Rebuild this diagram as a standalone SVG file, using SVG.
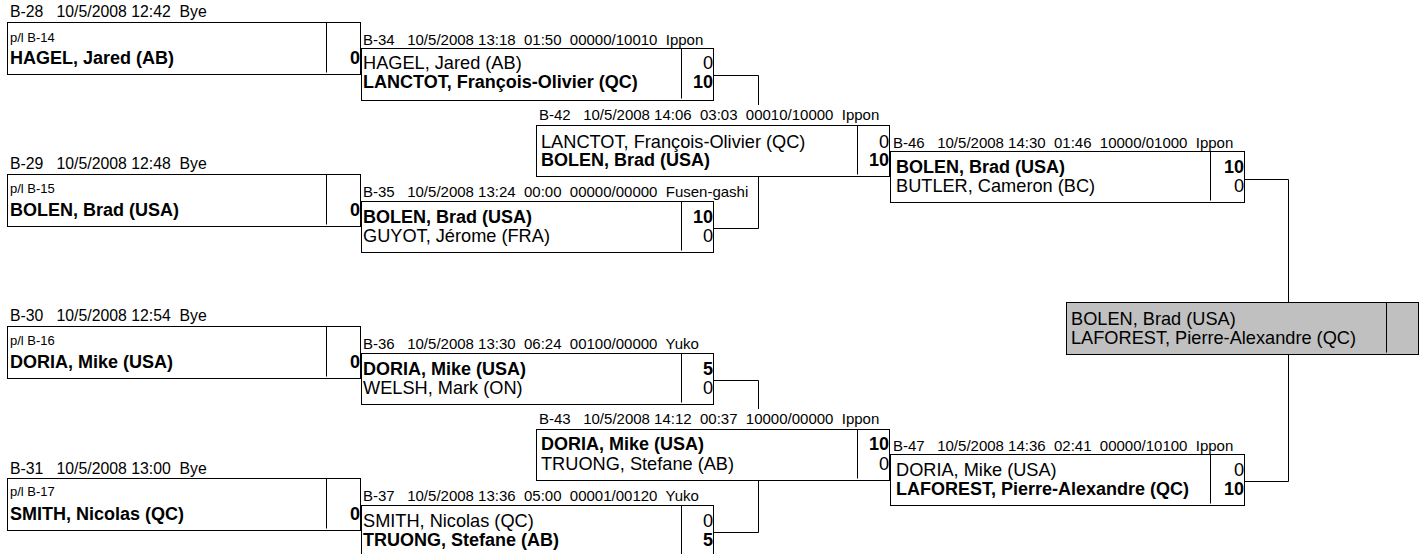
<svg xmlns="http://www.w3.org/2000/svg" width="1419" height="554" viewBox="0 0 1419 554">
<style>
text{font-family:"Liberation Sans",Arial,sans-serif;fill:#000}
.lbl{font-size:15px;white-space:pre}
.lbl1{font-size:15.8px;white-space:pre}
.nm{font-size:18.2px}
.b{font-weight:bold;font-size:18px}
.pl{font-size:13px}
.sc{text-anchor:end}
.box{fill:#fff;stroke:#000;stroke-width:1}
.fin{fill:#c0c0c0;stroke:#000;stroke-width:1}
.bg{fill:#fff;stroke:none}
.dv{stroke:#000;stroke-width:1}
.con{fill:none;stroke:#000;stroke-width:1}
</style>
<rect width="1419" height="554" fill="#fff"/>

<!-- Round 1 -->
<g id="B-28">
<text class="lbl1" x="10" y="17" xml:space="preserve">B-28   10/5/2008 12:42  Bye</text>
<rect class="box" x="7.5" y="22.5" width="353" height="52"/>
<line class="dv" x1="326.5" y1="22.5" x2="326.5" y2="72.5"/>
<text class="pl" x="10" y="42">p/l B-14</text>
<text class="nm b" x="10" y="63.5">HAGEL, Jared (AB)</text>
<text class="nm b sc" x="360" y="63.5">0</text>
</g>
<g id="B-29">
<text class="lbl1" x="10" y="169" xml:space="preserve">B-29   10/5/2008 12:48  Bye</text>
<rect class="box" x="7.5" y="174.5" width="353" height="52"/>
<line class="dv" x1="326.5" y1="174.5" x2="326.5" y2="224.5"/>
<text class="pl" x="10" y="193">p/l B-15</text>
<text class="nm b" x="10" y="215.5">BOLEN, Brad (USA)</text>
<text class="nm b sc" x="360" y="215.5">0</text>
</g>
<g id="B-30">
<text class="lbl1" x="10" y="321" xml:space="preserve">B-30   10/5/2008 12:54  Bye</text>
<rect class="box" x="7.5" y="326.5" width="353" height="52"/>
<line class="dv" x1="326.5" y1="326.5" x2="326.5" y2="376.5"/>
<text class="pl" x="10" y="345">p/l B-16</text>
<text class="nm b" x="10" y="367.5">DORIA, Mike (USA)</text>
<text class="nm b sc" x="360" y="367.5">0</text>
</g>
<g id="B-31">
<text class="lbl1" x="10" y="474" xml:space="preserve">B-31   10/5/2008 13:00  Bye</text>
<rect class="box" x="7.5" y="478.5" width="353" height="52"/>
<line class="dv" x1="326.5" y1="478.5" x2="326.5" y2="528.5"/>
<text class="pl" x="10" y="496">p/l B-17</text>
<text class="nm b" x="10" y="519.5">SMITH, Nicolas (QC)</text>
<text class="nm b sc" x="360" y="519.5">0</text>
</g>

<!-- Round 2 -->
<g id="B-34">
<text class="lbl" x="363" y="45" xml:space="preserve">B-34   10/5/2008 13:18  01:50  00000/10010  Ippon</text>
<rect class="box" x="361.5" y="48.5" width="352" height="52"/>
<line class="dv" x1="681.5" y1="48.5" x2="681.5" y2="98.5"/>
<text class="nm" x="363" y="68.5">HAGEL, Jared (AB)</text>
<text class="nm sc" x="713" y="68.5">0</text>
<text class="nm b" x="363" y="88">LANCTOT, François-Olivier (QC)</text>
<text class="nm b sc" x="713" y="88">10</text>
</g>
<g id="B-35">
<text class="lbl" x="363" y="197" xml:space="preserve">B-35   10/5/2008 13:24  00:00  00000/00000  Fusen-gashi</text>
<rect class="box" x="361.5" y="201.5" width="352" height="51"/>
<line class="dv" x1="681.5" y1="201.5" x2="681.5" y2="250.5"/>
<text class="nm b" x="363" y="222.5">BOLEN, Brad (USA)</text>
<text class="nm b sc" x="713" y="222.5">10</text>
<text class="nm" x="363" y="241.5">GUYOT, Jérome (FRA)</text>
<text class="nm sc" x="713" y="241.5">0</text>
</g>
<g id="B-36">
<text class="lbl" x="363" y="349" xml:space="preserve">B-36   10/5/2008 13:30  06:24  00100/00000  Yuko</text>
<rect class="box" x="361.5" y="353.5" width="352" height="51"/>
<line class="dv" x1="681.5" y1="353.5" x2="681.5" y2="402.5"/>
<text class="nm b" x="363" y="374.5">DORIA, Mike (USA)</text>
<text class="nm b sc" x="713" y="374.5">5</text>
<text class="nm" x="363" y="393.5">WELSH, Mark (ON)</text>
<text class="nm sc" x="713" y="393.5">0</text>
</g>
<g id="B-37">
<text class="lbl" x="363" y="501" xml:space="preserve">B-37   10/5/2008 13:36  05:00  00001/00120  Yuko</text>
<rect class="box" x="361.5" y="505.5" width="352" height="51"/>
<line class="dv" x1="681.5" y1="505.5" x2="681.5" y2="554.5"/>
<text class="nm" x="363" y="526.5">SMITH, Nicolas (QC)</text>
<text class="nm sc" x="713" y="526.5">0</text>
<text class="nm b" x="363" y="545.5">TRUONG, Stefane (AB)</text>
<text class="nm b sc" x="713" y="545.5">5</text>
</g>

<!-- Connectors -->
<g id="connectors">
<path class="con" d="M713.5,75.5 H758.5 V228.5 H713.5"/>
<path class="con" d="M713.5,380.5 H758.5 V532.5 H713.5"/>
<path class="con" d="M1244.5,179.5 H1288.5 V481.5 H1244.5"/>
</g>

<!-- Round 3 -->
<g id="B-42">
<rect class="bg" x="536" y="105" width="354" height="72"/>
<text class="lbl" x="539" y="120" xml:space="preserve">B-42   10/5/2008 14:06  03:03  00010/10000  Ippon</text>
<rect class="box" x="536.5" y="125.5" width="353" height="51"/>
<line class="dv" x1="857.5" y1="125.5" x2="857.5" y2="174.5"/>
<text class="nm" x="541" y="147.5">LANCTOT, François-Olivier (QC)</text>
<text class="nm sc" x="889" y="147.5">0</text>
<text class="nm b" x="541" y="166">BOLEN, Brad (USA)</text>
<text class="nm b sc" x="889" y="166">10</text>
</g>
<g id="B-43">
<rect class="bg" x="536" y="409" width="354" height="72"/>
<text class="lbl" x="539" y="424" xml:space="preserve">B-43   10/5/2008 14:12  00:37  10000/00000  Ippon</text>
<rect class="box" x="536.5" y="429.5" width="353" height="51"/>
<line class="dv" x1="857.5" y1="429.5" x2="857.5" y2="478.5"/>
<text class="nm b" x="541" y="450">DORIA, Mike (USA)</text>
<text class="nm b sc" x="889" y="450">10</text>
<text class="nm" x="541" y="469.5">TRUONG, Stefane (AB)</text>
<text class="nm sc" x="889" y="469.5">0</text>
</g>

<!-- Round 4 -->
<g id="B-46">
<text class="lbl" x="893" y="148" xml:space="preserve">B-46   10/5/2008 14:30  01:46  10000/01000  Ippon</text>
<rect class="box" x="890.5" y="151.5" width="354" height="51"/>
<line class="dv" x1="1210.5" y1="151.5" x2="1210.5" y2="200.5"/>
<text class="nm b" x="896" y="172.5">BOLEN, Brad (USA)</text>
<text class="nm b sc" x="1244" y="172.5">10</text>
<text class="nm" x="896" y="191.5">BUTLER, Cameron (BC)</text>
<text class="nm sc" x="1244" y="191.5">0</text>
</g>
<g id="B-47">
<text class="lbl" x="893" y="451" xml:space="preserve">B-47   10/5/2008 14:36  02:41  00000/10100  Ippon</text>
<rect class="box" x="890.5" y="454.5" width="354" height="51"/>
<line class="dv" x1="1210.5" y1="454.5" x2="1210.5" y2="503.5"/>
<text class="nm" x="896" y="475.5">DORIA, Mike (USA)</text>
<text class="nm sc" x="1244" y="475.5">0</text>
<text class="nm b" x="896" y="495">LAFOREST, Pierre-Alexandre (QC)</text>
<text class="nm b sc" x="1244" y="495">10</text>
</g>

<!-- Final -->
<g id="final">
<rect class="fin" x="1066.5" y="302.5" width="352" height="52"/>
<line class="dv" x1="1386.5" y1="302.5" x2="1386.5" y2="352.5"/>
<text class="nm" x="1071" y="324.5">BOLEN, Brad (USA)</text>
<text class="nm" x="1071" y="344">LAFOREST, Pierre-Alexandre (QC)</text>
</g>
</svg>
